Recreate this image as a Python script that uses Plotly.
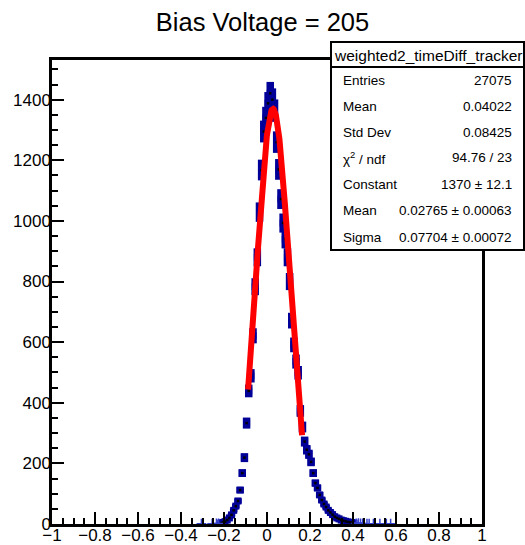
import numpy as np
import plotly.graph_objects as go

# ---------------- data ----------------
bin_centers = [-0.215, -0.205, -0.195, -0.185, -0.175, -0.165, -0.155, -0.145, -0.135, -0.125,
               -0.115, -0.105, -0.095, -0.085, -0.075, -0.065, -0.055, -0.045, -0.035, -0.025,
               -0.015, -0.005, 0.005, 0.015, 0.025, 0.035, 0.045, 0.055, 0.065, 0.075,
               0.085, 0.095, 0.105, 0.115, 0.125, 0.135, 0.145, 0.155, 0.165, 0.175,
               0.185, 0.195, 0.205, 0.215, 0.225, 0.235, 0.245, 0.255, 0.265, 0.275,
               0.285, 0.295, 0.305, 0.315, 0.325, 0.335, 0.345, 0.355, 0.365, 0.375,
               0.385, 0.395, 0.405]
counts = [3, 5, 8, 13, 20, 30, 45, 59, 76, 112,
          168, 219, 333, 439, 489, 621, 783, 880, 1029, 1168,
          1295, 1340, 1388, 1421, 1400, 1364, 1260, 1170, 1072, 993,
          940, 880, 800, 671, 591, 536, 499, 373, 320, 272,
          245, 230, 205, 168, 135, 119, 96, 79, 66, 56,
          45, 38, 31, 24, 20, 17, 13, 11, 9, 7,
          6, 5, 3]

tail_centers = [-0.305, -0.255, -0.235, -0.225, 0.415, 0.425, 0.435, 0.445, 0.465, 0.475, 0.495, 0.525, 0.555, 0.575]
tail_counts = [1, 1, 2, 2, 2, 3, 2, 2, 1, 1, 1, 1, 1, 1]

# fit parameters from the stats box
fit_constant = 1370.0
fit_mean = 0.02765
fit_sigma = 0.07704
fit_range = [-0.088, 0.163]

title_text = "Bias Voltage = 205"
stats_name = "weighted2_timeDiff_tracker"
stats_labels = ["Entries", "Mean", "Std Dev", "χ<sup>2</sup> / ndf", "Constant", "Mean", "Sigma"]
stats_values = ["27075", "0.04022", "0.08425", "94.76 / 23", "1370 ± 12.1", "0.02765 ± 0.00063", "0.07704 ± 0.00072"]

x_ticks = [-1, -0.8, -0.6, -0.4, -0.2, 0, 0.2, 0.4, 0.6, 0.8, 1]
y_ticks = [0, 200, 400, 600, 800, 1000, 1200, 1400]

# ---------------- figure ----------------
W, H = 525, 545
L, R, T, B = 52, 43, 60, 21
pw, ph = W - L - R, H - T - B

def px(x):
    return (x - L) / pw

def py(y):
    return (H - B - y) / ph

FONT = "Liberation Sans, Arial, Helvetica, sans-serif"
BLUE = "#000099"

errs = list(np.sqrt(np.array(counts, dtype=float)))
tail_errs = list(np.sqrt(np.array(tail_counts, dtype=float)))

fig = go.Figure()
fig.add_trace(go.Scatter(
    x=bin_centers, y=counts, mode="markers",
    marker=dict(symbol="square", size=7, color=BLUE),
    error_y=dict(type="data", array=errs, thickness=7.5, width=0, color=BLUE),
    hoverinfo="x+y", showlegend=False))
fig.add_trace(go.Scatter(
    x=bin_centers, y=counts, mode="markers",
    marker=dict(symbol="square", size=2.5, color="black"),
    hoverinfo="skip", showlegend=False))
fig.add_trace(go.Scatter(
    x=tail_centers, y=tail_counts, mode="markers",
    marker=dict(symbol="cross-thin", size=7, line=dict(color="#3340cc", width=1.5)),
    error_y=dict(type="data", array=tail_errs, thickness=1.5, width=0, color="#3340cc"),
    showlegend=False))

fx = np.linspace(fit_range[0], fit_range[1], 200)
fy = fit_constant * np.exp(-0.5 * ((fx - fit_mean) / fit_sigma) ** 2)
fig.add_trace(go.Scatter(x=fx, y=fy, mode="lines", line=dict(color="#ff0000", width=6),
                         showlegend=False, hoverinfo="skip"))

axis_common = dict(
    showline=True, linewidth=2.5, linecolor="black", mirror=True,
    ticks="inside", ticklen=12, tickwidth=1.5, tickcolor="black",
    showgrid=False, zeroline=False,
    tickfont=dict(family=FONT, size=17, color="black"),
)
fig.update_xaxes(range=[-1, 1], tickmode="array", tickvals=x_ticks, ticklabelstandoff=-6,
                 minor=dict(dtick=0.05, tick0=-1, ticks="inside", ticklen=6, tickwidth=1.5, tickcolor="black"),
                 **axis_common)
fig.update_yaxes(range=[0, 1531], tickmode="array", tickvals=y_ticks, ticklabelstandoff=-5,
                 minor=dict(dtick=50, tick0=0, ticks="inside", ticklen=6, tickwidth=1.5, tickcolor="black"),
                 **axis_common)

shapes = [
    dict(type="rect", xref="paper", yref="paper", x0=px(331), x1=px(524), y0=py(250), y1=py(42),
         fillcolor="white", line=dict(color="black", width=2), layer="above"),
    dict(type="line", xref="paper", yref="paper", x0=px(331), x1=px(524), y0=py(67), y1=py(67),
         line=dict(color="black", width=2), layer="above"),
]

annotations = [
    dict(text=stats_name, xref="paper", yref="paper", x=px(428), y=py(55), showarrow=False,
         xanchor="center", yanchor="middle", font=dict(family=FONT, size=15.5, color="black")),
]
row_y = [80, 106, 132, 158, 184, 210, 237]
for lab, val, yy in zip(stats_labels, stats_values, row_y):
    annotations.append(dict(text=lab, xref="paper", yref="paper", x=px(341), y=py(yy), showarrow=False,
                            xanchor="left", yanchor="middle", font=dict(family=FONT, size=13.5, color="black")))
    annotations.append(dict(text=val, xref="paper", yref="paper", x=px(514), y=py(yy), showarrow=False,
                            xanchor="right", yanchor="middle", font=dict(family=FONT, size=13.5, color="black")))

fig.update_layout(
    width=W, height=H,
    margin=dict(l=L, r=R, t=T, b=B, autoexpand=False),
    paper_bgcolor="white", plot_bgcolor="white",
    title=dict(text=title_text, x=0.5, xref="container", xanchor="center",
               y=1 - 22 / H, yref="container", yanchor="middle",
               font=dict(family=FONT, size=25.5, color="black")),
    font=dict(family=FONT, color="black"),
    shapes=shapes, annotations=annotations,
    showlegend=False,
)

fig.write_html("out.html", config={"displayModeBar": False},
               post_script="document.body.style.margin='0px';document.body.style.padding='0px';")
